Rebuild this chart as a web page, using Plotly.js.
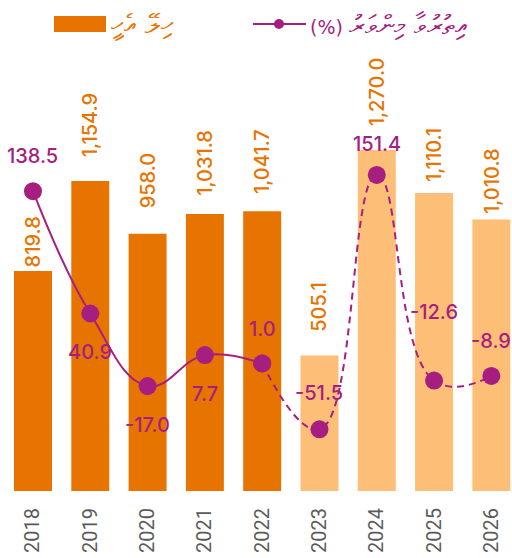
<!DOCTYPE html>
<html>
<head>
<meta charset="utf-8">
<script src="https://cdn.plot.ly/plotly-3.0.1.min.js"></script>
<style>html,body{margin:0;padding:0;background:#fff;}#chart{width:512px;height:558px;}</style>
</head>
<body>
<div id="chart"></div>
<script>
// ---- data ----
const years = ['2018', '2019', '2020', '2021', '2022', '2023', '2024', '2025', '2026'];
const grants = [819.8, 1154.9, 958.0, 1031.8, 1041.7, 505.1, 1270.0, 1110.1, 1010.8];
const growth = [138.5, 40.9, -17.0, 7.7, 1.0, -51.5, 151.4, -12.6, -8.9];
const actualCount = 5; // 2018-2022 actual, 2023-2026 projected
const barLegend = 'ހިލޭ އެހީ';
const lineLegendThaana = 'އިތުރުވާ މިންވަރު';
const lineLegendUnit = '(%)';

// ---- styles ----
const ORANGE = '#E87400';
const LIGHT = '#FDBE78';
const PURPLE = '#A61E80';
const LABEL_FONT = 'Inter, Roboto, sans-serif';
const THAANA_FONT = '"DejaVu Sans", "Noto Sans", sans-serif';
const barLabelGap = [3, 23, 24, 17, 16, 23, 23, 10, 5];
const lineLabelShift = [35, -38.5, -39, -39, 35, 36, 30.5, 68.7, 35];

const barColors = years.map((y, i) => i < actualCount ? ORANGE : LIGHT);

const fmtBar = v => v.toLocaleString('en-US', {minimumFractionDigits: 1, maximumFractionDigits: 1});
const fmtLine = v => v.toFixed(1);

const traces = [
  {
    type: 'bar', x: years, y: grants, marker: {color: barColors},
    hoverinfo: 'none', showlegend: false
  },
  {
    type: 'scatter', mode: 'lines+markers', x: years.slice(0, actualCount), y: growth.slice(0, actualCount),
    yaxis: 'y2', line: {color: PURPLE, width: 2, shape: 'spline', smoothing: 1.2},
    marker: {color: PURPLE, size: 18}, hoverinfo: 'none', showlegend: false
  },
  {
    type: 'scatter', mode: 'lines+markers', x: years.slice(actualCount - 1), y: growth.slice(actualCount - 1),
    yaxis: 'y2', line: {color: PURPLE, width: 2, shape: 'spline', smoothing: 1.3, dash: '7px,5px'},
    marker: {color: PURPLE, size: 18}, hoverinfo: 'none', showlegend: false
  }
];

const annotations = [];
years.forEach((yr, i) => {
  annotations.push({
    x: i, y: grants[i], xref: 'x', yref: 'y', text: fmtBar(grants[i]),
    textangle: -90, showarrow: false, xanchor: 'center', yanchor: 'bottom',
    yshift: barLabelGap[i] - 1,
    font: {family: LABEL_FONT, size: 20, weight: 500, color: ORANGE}
  });
  annotations.push({
    x: i, y: growth[i], xref: 'x', yref: 'y2', text: fmtLine(growth[i]),
    showarrow: false, xanchor: 'center', yanchor: 'middle',
    yshift: lineLabelShift[i],
    font: {family: LABEL_FONT, size: 20, weight: 500, color: PURPLE}
  });
});

// legend (drawn manually)
const px = v => (v - 4) / 508;
const py = v => (491 - v) / 441;
annotations.push({
  xref: 'paper', yref: 'paper', x: px(109), y: py(24), xanchor: 'left', yanchor: 'middle',
  text: barLegend, showarrow: false, font: {family: THAANA_FONT, size: 27, color: ORANGE}
});
annotations.push({
  xref: 'paper', yref: 'paper', x: px(308), y: py(24), xanchor: 'left', yanchor: 'middle',
  text: lineLegendUnit + ' <span style="font-size:27px">' + lineLegendThaana + '</span>',
  showarrow: false, font: {family: THAANA_FONT, size: 19, color: PURPLE}
});
const shapes = [
  {type: 'rect', xref: 'paper', yref: 'paper', x0: px(54), x1: px(106), y0: py(32), y1: py(16),
   fillcolor: ORANGE, line: {width: 0}},
  {type: 'line', xref: 'paper', yref: 'paper', x0: px(253), x1: px(306), y0: py(24), y1: py(24),
   line: {color: PURPLE, width: 2}},
  {type: 'circle', xref: 'paper', yref: 'paper', xsizemode: 'pixel', ysizemode: 'pixel',
   xanchor: px(279), yanchor: py(24), x0: -5, x1: 5, y0: -5, y1: 5,
   fillcolor: PURPLE, line: {width: 0}}
];

const layout = {
  width: 512, height: 558,
  margin: {l: 4, r: 0, t: 50, b: 67},
  paper_bgcolor: '#fff', plot_bgcolor: '#fff',
  showlegend: false,
  bargap: 0.337,
  xaxis: {
    type: 'category', range: [-0.506, 8.36], showgrid: false, zeroline: false, showline: false,
    tickangle: -90, ticks: '', ticklabelstandoff: 12,
    tickfont: {family: 'Roboto, sans-serif', size: 20, color: '#5a5a5a'}
  },
  yaxis: {range: [0, 1642.5], visible: false, showgrid: false, zeroline: false},
  yaxis2: {range: [-100.7, 251.1], overlaying: 'y', visible: false, showgrid: false, zeroline: false},
  annotations: annotations,
  shapes: shapes
};

Plotly.newPlot('chart', traces, layout, {staticPlot: true, displayModeBar: false});
</script>
</body>
</html>
